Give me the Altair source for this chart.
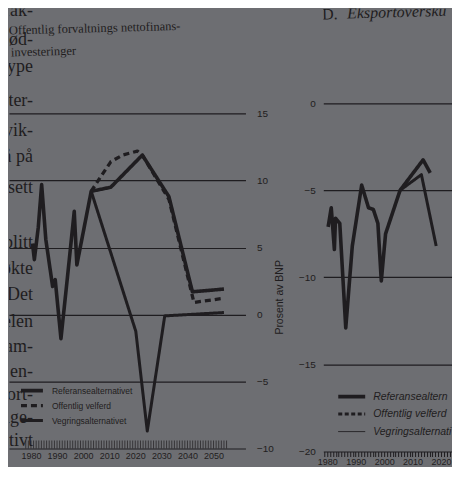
import altair as alt
import pandas as pd

SERIES = ["Referansealternativet", "Offentlig velferd", "Vegringsalternativet"]

# Panel 1: Offentlig forvaltnings nettofinansinvesteringer (prosent av BNP)
L_REF_YEAR = [1980.6, 1981.3, 1982.8, 1984.1, 1985.7, 1988.3, 1989.3, 1991.5, 1994.0,
              1996.6, 1997.6, 2003.1, 2010.6, 2022.7, 2032.9, 2041.9, 2054.0]
L_REF_VAL = [5.3, 4.1, 6.5, 9.7, 5.6, 2.1, 2.6, -1.8, 2.8, 7.7, 3.7, 9.2, 9.5, 11.9, 8.8, 1.7, 1.9]
L_OFF_YEAR = [2003.1, 2006.8, 2010.6, 2015.1, 2020.8, 2022.7, 2032.9, 2042.5, 2053.3]
L_OFF_VAL = [9.2, 10.3, 11.4, 11.9, 12.2, 11.9, 8.6, 0.9, 1.2]
L_VEG_YEAR = [2003.1, 2020.2, 2024.6, 2031.3, 2054.0]
L_VEG_VAL = [9.2, -1.25, -8.7, -0.1, 0.15]
L_TICKS_Y = [-10, -5, 0, 5, 10, 15]
L_LABEL_YEARS = [1980, 1990, 2000, 2010, 2020, 2030, 2040, 2050]
L_COMB_YEARS = list(range(1978, 2056))

# Panel D: Eksportoverskudd (prosent av BNP)
R_REF_YEAR = [1980.3, 1981.4, 1982.5, 1982.9, 1984.4, 1986.5, 1988.8, 1992.1, 1994.5,
              1996.2, 1997.8, 1999.0, 2000.5, 2005.6, 2013.7, 2016.2]
R_REF_VAL = [-7.1, -6.0, -8.4, -6.6, -6.9, -12.9, -8.2, -4.7, -6.0, -6.1, -6.9, -10.2,
             -7.5, -5.0, -3.25, -4.0]
R_VEG_YEAR = [2005.6, 2013.1, 2018.3]
R_VEG_VAL = [-5.0, -4.1, -8.2]
R_TICKS_Y = [-20, -15, -10, -5, 0]
R_AXIS_YEARS = list(range(1979, 2024))

# Fragments of the page's body text in the left margin
BODY_WORDS = ["fak-", "nød-", "type", "ster-", "vik-", "å på", "sett", "blitt", "økte",
              "Det", "elen", "sam-", "gjen-", "fort-", "tlige-", "ktivt", "ver i"]
BODY_BASE = [7, 37, 64, 98, 128, 154, 185, 240, 266, 292, 319, 344, 369, 392, 415, 438, 465]

BG = "#6d6e72"
INK = "#1f1d20"
DASHES = [[1, 0], [6, 4], [1, 0]]
WIDTHS = [3.6, 3.0, 1.0]


def long_df(parts):
    rows = []
    for serie, years, vals in parts:
        for yr, v in zip(years, vals):
            rows.append({"serie": serie, "year": yr, "value": v})
    return pd.DataFrame(rows)


df_l = long_df([(SERIES[2], L_VEG_YEAR, L_VEG_VAL), (SERIES[1], L_OFF_YEAR, L_OFF_VAL),
                (SERIES[0], L_REF_YEAR, L_REF_VAL)])
df_r = long_df([(SERIES[2], R_VEG_YEAR, R_VEG_VAL), (SERIES[0], R_REF_YEAR, R_REF_VAL)])


def legend(x, y, size, sym, row_h, offset):
    return alt.Legend(title=None, orient="none", legendX=x, legendY=y, direction="vertical",
                      symbolType="stroke", symbolSize=sym, symbolStrokeColor=INK,
                      labelFont="Liberation Sans", labelFontSize=size, labelColor=INK,
                      labelOffset=offset, clipHeight=row_h, rowPadding=0, padding=0,
                      labelLimit=300)


def style_enc(leg):
    return dict(
        strokeDash=alt.StrokeDash("serie:N", legend=leg,
                                  scale=alt.Scale(domain=SERIES, range=DASHES)),
        strokeWidth=alt.StrokeWidth("serie:N", legend=leg,
                                    scale=alt.Scale(domain=SERIES, range=WIDTHS)),
    )


def text(t, x, y, **kw):
    return alt.Chart(pd.DataFrame({"t": [t]})).mark_text(color=INK, **kw).encode(
        text="t:N", x=alt.value(x), y=alt.value(y))


# ---------------- left panel ----------------
LW, LH = 237, 441
xs_l = alt.Scale(domain=[1971.58, 2062.25], nice=False, zero=False)
ys_l = alt.Scale(domain=[-10, 22.84], nice=False, zero=False)
xax_l = alt.Axis(values=L_LABEL_YEARS, format="d", ticks=False, domain=False, grid=False,
                 labelFontSize=9, labelPadding=3, title=None, labelFont="Liberation Sans",
                 labelColor=INK)
yax_l = alt.Axis(orient="right", values=L_TICKS_Y, ticks=False, domain=False, grid=True,
                 gridColor=INK, gridWidth=1.2, gridOpacity=1, labelPadding=11, labelFontSize=10,
                 labelFont="Liberation Sans", labelColor=INK, title=None)

lines_l = alt.Chart(df_l).mark_line(color=INK, clip=True, strokeJoin="round").encode(
    x=alt.X("year:Q", scale=xs_l, axis=xax_l),
    y=alt.Y("value:Q", scale=ys_l, axis=yax_l),
    **style_enc(legend(10, 375.5, 8.5, 484, 15, 7)),
)
comb_l = alt.Chart(pd.DataFrame({"year": L_COMB_YEARS})).mark_tick(
    color=INK, thickness=1, size=8).encode(
    x=alt.X("year:Q", scale=xs_l, axis=xax_l), y=alt.value(437))

body = [text(w, 24, b, align="right", baseline="alphabetic", font="Liberation Serif",
             fontSize=18, clip=True) for w, b in zip(BODY_WORDS, BODY_BASE)]
title_l = [
    text("Offentlig forvaltnings nettofinans-", 0, 26, align="left", baseline="alphabetic",
         font="Liberation Serif", fontSize=12.5, angle=358.5),
    text("investeringer", 2, 48, align="left", baseline="alphabetic",
         font="Liberation Serif", fontSize=12.5, angle=358.5),
]

left = alt.layer(*body, *title_l, comb_l, lines_l).properties(width=LW, height=LH)

# ---------------- right panel ----------------
RW, RH = 129, 444
xs_r = alt.Scale(domain=[1978.6, 2023.86], nice=False, zero=False)
ys_r = alt.Scale(domain=[-20, 5.44], nice=False, zero=False)
xax_r = alt.Axis(values=R_AXIS_YEARS, format="d",
                 labelExpr="datum.value % 10 == 0 ? datum.label : ''", labelOverlap=False,
                 ticks=True, tickSize=5, tickColor=INK, tickWidth=1, domain=False, grid=False,
                 labelFontSize=9, labelPadding=1, title=None, labelFont="Liberation Sans",
                 labelColor=INK)
yax_r = alt.Axis(orient="left", values=R_TICKS_Y, ticks=False, domain=False, grid=True,
                 gridColor=INK, gridWidth=1.2, gridOpacity=1, labelPadding=8, labelFontSize=10,
                 labelFont="Liberation Sans", labelColor=INK, minExtent=23, maxExtent=23,
                 title="Prosent av BNP", titleFont="Liberation Sans", titleFontSize=10.5,
                 titleFontWeight="normal", titleColor=INK, titlePadding=16, titleY=289)

lines_r = alt.Chart(df_r).mark_line(color=INK, clip=True, strokeJoin="round").encode(
    x=alt.X("year:Q", scale=xs_r, axis=xax_r),
    y=alt.Y("value:Q", scale=ys_r, axis=yax_r),
    **style_enc(None),
)

# key of panel D, drawn by hand so that it is cut at the panel's edge like the scan
key_r = []
for i, name in enumerate(SERIES):
    row_y = 389 + 17.5 * i
    key_r.append(
        alt.Chart(pd.DataFrame({"serie": [name]})).mark_rule(
            color=INK, strokeWidth=WIDTHS[i], strokeDash=[4, 2.5] if i == 1 else [1, 0]
        ).encode(x=alt.value(15), x2=alt.value(42), y=alt.value(row_y))
    )
    key_r.append(text(name, 50, row_y, align="left", baseline="middle",
                      font="Liberation Sans", fontSize=10.5, fontStyle="italic",
                      limit=RW - 50, ellipsis="\u200b", clip=True))

title_r = [
    text("D.", -1, 11, align="left", baseline="alphabetic", font="Liberation Serif",
         fontSize=16, angle=358.5, clip=True),
    text("Eksportoverskudd", 24, 10, align="left", baseline="alphabetic",
         font="Liberation Serif", fontSize=16, fontStyle="italic", angle=358.5,
         limit=RW - 26, ellipsis="\u200b", clip=True),
]
right = alt.layer(*title_r, *key_r, lines_r).properties(width=RW, height=RH)

chart = (
    alt.hconcat(left, right, spacing=78, bounds="flush")
    .resolve_scale(strokeDash="independent", strokeWidth="independent")
    .resolve_legend(strokeDash="independent", strokeWidth="independent")
    .properties(background=BG, padding=0)
    .configure_view(stroke=None)
)

chart.save("out.html", embed_options={"renderer": "svg", "actions": False})
